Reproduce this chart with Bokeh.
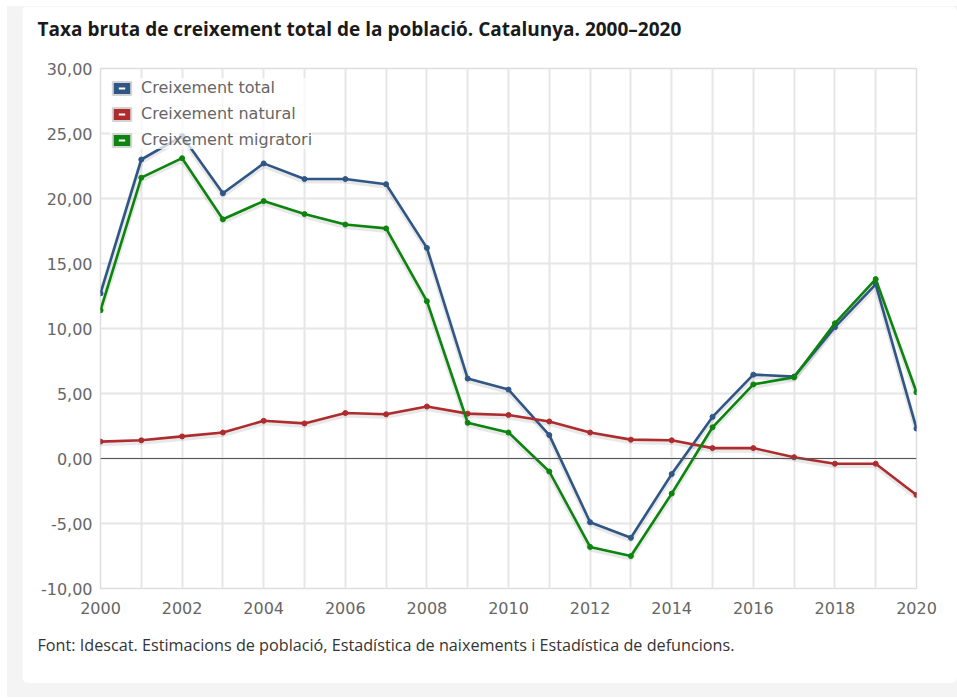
from bokeh.plotting import figure
from bokeh.models import (ColumnDataSource, FixedTicker, Span, Title, Legend, LegendItem,
                          Range1d, Row, Column, Spacer)
from bokeh.transform import dodge
from bokeh.embed import file_html
from bokeh.resources import INLINE

# ---- data ----
years = list(range(2000, 2021))
total = [12.7, 23.0, 24.8, 20.4, 22.7, 21.5, 21.5, 21.1, 16.2, 6.15, 5.3,
         1.8, -4.9, -6.1, -1.2, 3.2, 6.45, 6.3, 10.1, 13.4, 2.3]
natural = [1.3, 1.4, 1.7, 2.0, 2.9, 2.7, 3.5, 3.4, 4.0, 3.45, 3.35,
           2.85, 2.0, 1.45, 1.4, 0.8, 0.8, 0.1, -0.4, -0.4, -2.8]
migratori = [11.4, 21.6, 23.1, 18.4, 19.8, 18.8, 18.0, 17.7, 12.1, 2.75, 2.0,
             -1.0, -6.8, -7.5, -2.7, 2.4, 5.7, 6.25, 10.4, 13.8, 5.1]
series_names = ["Creixement total", "Creixement natural", "Creixement migratori"]
series_colors = ["#2f5685", "#ae2b2e", "#0b850d"]
y_ticks = [-10, -5, 0, 5, 10, 15, 20, 25, 30]
y_tick_labels = ["-10,00", "-5,00", "0,00", "5,00", "10,00", "15,00", "20,00", "25,00", "30,00"]
x_label_years = [2000, 2002, 2004, 2006, 2008, 2010, 2012, 2014, 2016, 2018, 2020]
title_text = "Taxa bruta de creixement total de la població. Catalunya. 2000–2020"
source_text = "Font: Idescat. Estimacions de població, Estadística de naixements i Estadística de defuncions."

src = ColumnDataSource(dict(year=years, total=total, natural=natural, migratori=migratori))

p = figure(width=935, height=677, output_backend="svg", toolbar_location=None,
           x_range=Range1d(2000, 2020), y_range=Range1d(-10, 30),
           min_border_left=78, min_border_right=41, min_border_top=62, min_border_bottom=95,
           background_fill_color="white", border_fill_color="white",
           title=None,
           styles={"border-radius": "6px", "overflow": "hidden"})
p.outline_line_color = "#dedede"
p.outline_line_width = 1.5

# grids
p.xgrid.grid_line_color = "#e6e6e6"
p.ygrid.grid_line_color = "#e6e6e6"
p.xgrid.grid_line_width = 2
p.ygrid.grid_line_width = 2

# axes
p.xaxis.ticker = FixedTicker(ticks=years)
p.xaxis.major_label_overrides = {y: (str(y) if y in x_label_years else "") for y in years}
p.yaxis.ticker = FixedTicker(ticks=y_ticks)
p.yaxis.major_label_overrides = {t: l for t, l in zip(y_ticks, y_tick_labels)}
for ax in (p.xaxis, p.yaxis):
    ax.axis_line_color = None
    ax.major_tick_line_color = None
    ax.minor_tick_line_color = None
    ax.major_label_text_font = "DejaVu Sans"
    ax.major_label_text_font_size = "16px"
    ax.major_label_text_color = "#666666"
p.xaxis.major_label_standoff = 7
p.yaxis.major_label_standoff = 2

p.add_layout(Span(location=0, dimension="width", line_color="#555555", line_width=1.2))

# shadows then lines
for col in ["total", "natural", "migratori"]:
    p.line(x="year", y=dodge(col, -0.16, range=p.y_range), source=src,
           line_color="#000000", line_alpha=0.09, line_width=5)
for col, c in zip(["total", "natural", "migratori"], series_colors):
    p.line(x="year", y=col, source=src, line_color=c, line_width=2.6)
    p.scatter(x="year", y=col, source=src, size=5, fill_color=c, line_color=c)

# legend swatches (renderers placed off-range, only their legend glyphs show)
items = []
for name, c in zip(series_names, series_colors):
    box = p.quad(left=[1900], right=[1901], top=[100], bottom=[99], fill_color=c,
                 line_color="#d4d4d4", line_width=2)
    dash = p.scatter(x=[1900], y=[100], marker="dash", size=6, line_color="white", line_width=2)
    items.append(LegendItem(label=name, renderers=[box, dash]))
legend = Legend(items=items, location="top_left", margin=10, padding=8,
                glyph_width=23, glyph_height=16, label_height=16, spacing=7,
                label_standoff=8, label_text_font="DejaVu Sans",
                label_text_font_size="16px", label_text_color="#666666",
                background_fill_color="white", background_fill_alpha=0.75,
                border_line_color=None)
p.add_layout(legend)

# title (with a blank spacer title between it and the plot) and source
p.add_layout(Title(text=" ", standoff=2, text_font="Open Sans", text_font_size="16px"), "above")
p.add_layout(Title(text=title_text, align="left", offset=-63, standoff=0,
                   vertical_align="middle",
                   text_font="Open Sans", text_font_style="bold",
                   text_font_size="19px", text_color="#1a1a1a"), "above")
p.add_layout(Title(text=source_text, align="left", offset=-63, standoff=30,
                   vertical_align="bottom",
                   text_font="Open Sans", text_font_style="normal",
                   text_font_size="16.2px", text_color="#333333"), "below")

gray = Column(children=[Row(children=[Spacer(width=15, height=677), p]),
                        Spacer(width=950, height=14)],
              styles={"background-color": "#f4f4f4"})
layout = Column(children=[Spacer(width=957, height=6),
                          Row(children=[Spacer(width=7, height=691), gray])])

open("out.html", "w").write(file_html(layout, INLINE))
